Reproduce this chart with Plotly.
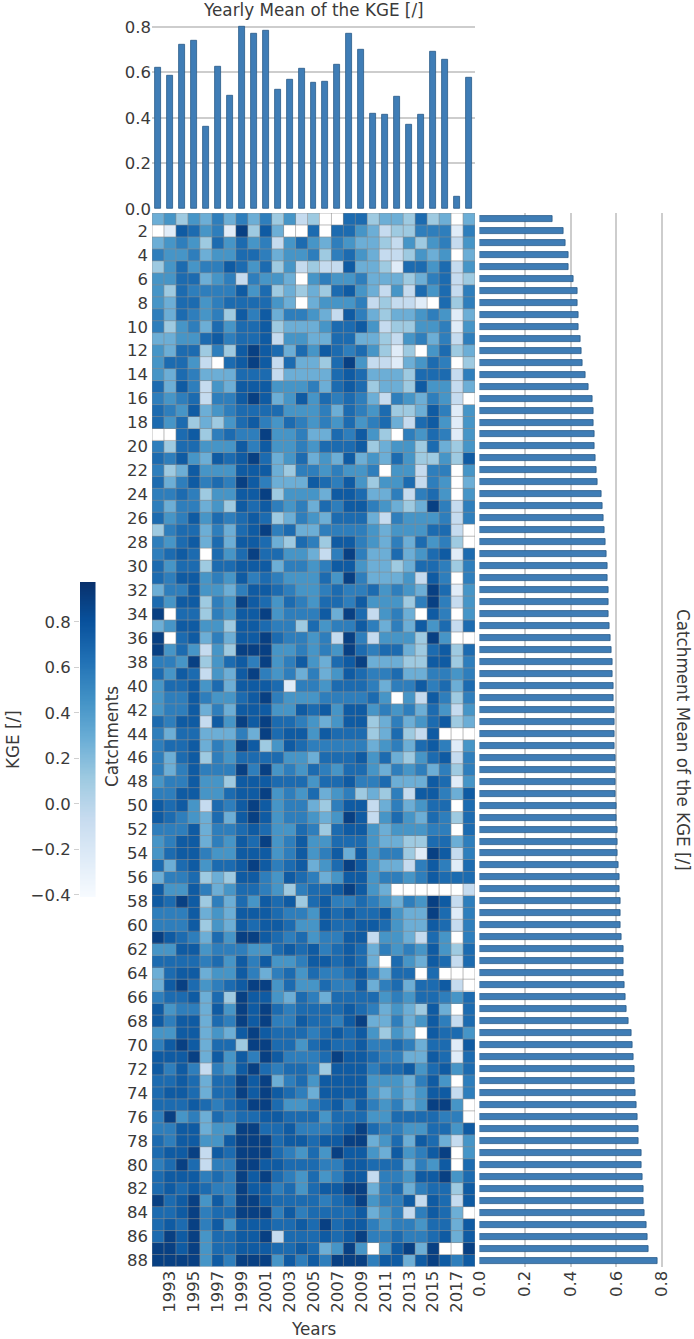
"""
KGE heatmap per catchment and year, with yearly and catchment mean bars
"""

import plotly.graph_objects as go

W, H = 694, 1339

years = list(range(1992, 2019))
catchments = list(range(1, 89))
year_ticks = list(range(1993, 2018, 2))
catchment_ticks = list(range(2, 89, 2))

yearly_mean = [0.62, 0.585, 0.72, 0.74, 0.36, 0.625, 0.50, 0.80, 0.77, 0.785, 0.525, 0.57, 0.615, 0.555,
               0.56, 0.635, 0.77, 0.70, 0.42, 0.415, 0.495, 0.37, 0.415, 0.69, 0.655, 0.055, 0.575]

catchment_mean = [0.319, 0.37, 0.375, 0.39, 0.39, 0.411, 0.428, 0.431, 0.433, 0.433, 0.443, 0.446,
                  0.453, 0.463, 0.477, 0.494, 0.50, 0.50, 0.503, 0.505, 0.508, 0.512, 0.515, 0.535,
                  0.54, 0.545, 0.548, 0.553, 0.555, 0.56, 0.563, 0.565, 0.567, 0.567, 0.57, 0.573,
                  0.58, 0.583, 0.585, 0.586, 0.587, 0.59, 0.59, 0.59, 0.593, 0.595, 0.596, 0.597,
                  0.598, 0.60, 0.602, 0.603, 0.605, 0.607, 0.61, 0.612, 0.614, 0.616, 0.618, 0.62,
                  0.622, 0.63, 0.63, 0.632, 0.635, 0.64, 0.645, 0.653, 0.665, 0.67, 0.675, 0.678,
                  0.68, 0.682, 0.69, 0.693, 0.695, 0.695, 0.71, 0.712, 0.715, 0.717, 0.72, 0.722,
                  0.73, 0.735, 0.742, 0.781]

# KGE, one digit per year; 0 = empty cell
kge_levels = {"0": None, "1": -0.25, "2": -0.06, "3": 0.11, "4": 0.28, "5": 0.44,
              "6": 0.56, "7": 0.66, "8": 0.75, "9": 0.89}

kge_rows = [
    "4535464646 3523007734 4373404",
    "0187561938 4007077542 3366616",
    "4565375756 2575465443 2535625",
    "6556455776 4556367542 2354504",
    "3575668757 3523228443 1775725",
    "5577456265 5405655644 4346723",
    "5376666857 3434378542 5275726",
    "5477567777 5404555623 2210736",
    "6476563868 4665428643 4456514",
    "6356475778 3444577852 3355615",
    "4455786778 2554477443 2564626",
    "5477363898 7475876753 1305734",
    "5775207898 2744379522 1457603",
    "5476444777 2444478744 4377726",
    "7486254888 5556478734 4385524",
    "6567266898 4585767642 6546520",
    "7658456777 7555647657 3348615",
    "7573435786 5765657567 4278515",
    "0078367669 5564476853 0657615",
    "6377555868 5565777834 5537435",
    "7685487897 4574548454 7533538",
    "6348555888 4366565560 5526605",
    "7468676986 4448768535 5726504",
    "6676355889 3555488744 6267505",
    "6466453878 6564768865 4349626",
    "7568576787 3465477742 6555626",
    "3677464789 6744666654 5557720",
    "6578474887 4376388654 6475630",
    "6787075797 7554269644 7457817",
    "7577377888 4665688544 3477636",
    "7688565867 6555759644 4528606",
    "4668554688 7655676675 6549715",
    "7588365987 5765776855 5369625",
    "9077365889 5666849725 6408605",
    "4588553887 6637566864 6485727",
    "9078464889 7665629625 5539500",
    "9575253999 5565659767 7437837",
    "6659357869 5685478944 4338836",
    "7587254896 5646458766 7446656",
    "5778574888 7166577764 6686747",
    "5668655789 6555666675 0528636",
    "5668464888 5587858856 5647525",
    "7688285989 7765458834 6457834",
    "6477444649 7885877734 7328000",
    "6778465983 5876666645 6478615",
    "6478365777 7554777857 4357826",
    "6468666969 5657657754 6564636",
    "5668553888 7775778667 4448715",
    "6688557889 5657456343 6288648",
    "8785276898 5664368824 6457707",
    "8765474898 5665459825 7547637",
    "6668466787 5576378854 5556607",
    "5688465879 5685577754 4337746",
    "5788655888 5685684856 6319826",
    "7478577898 6784579854 4268617",
    "4667343886 5876458856 6568777",
    "8558645776 5367789854 0000002",
    "8798364758 7837866765 4659826",
    "6668454888 7665878778 5449716",
    "6668354878 8755877887 5448726",
    "9876475998 7675668825 5427506",
    "5588566655 7878678746 5658537",
    "7777675868 5568878740 7548727",
    "4788455864 6757667864 7707000",
    "4897567899 5755766846 7477820",
    "6778473988 5476477775 6577657",
    "8566485989 7677778764 5438407",
    "8688476989 6687768944 6458627",
    "5588454898 7776787853 5408775",
    "6898477399 7757877866 7647718",
    "8889485869 8666798876 6448717",
    "8686265897 6776388867 7857857",
    "7787477989 4675888855 5468506",
    "7887477989 8764888854 5458826",
    "7778767899 7556786865 6459950",
    "6956476778 8777577755 7777660",
    "6688455997 7866678976 6557758",
    "7688558999 7887889945 7487425",
    "7889287999 7657598854 8568905",
    "6797266998 8777668877 7465807",
    "7888676989 7657568826 6588957",
    "7878766988 6757889946 7467738",
    "9789586998 7777678956 6828728",
    "7789677999 6867777845 6268740",
    "7879685888 7787978865 6657748",
    "7989577889 2777878966 7667848",
    "9989577888 7787459505 8949009",
    "9999586999 5868699968 8489868",
]

blues = ["#f7fbff", "#deebf7", "#c6dbef", "#9ecae1", "#6baed6", "#4292c6", "#2171b5", "#08519c", "#08306b"]
colorscale = [[i / 8, c] for i, c in enumerate(blues)]
ZMIN, ZMAX = -0.41, 0.975
cbar_ramp = [ZMIN + (ZMAX - ZMIN) * i / 255 for i in range(256)]

TEXT = "#3a3a3a"
GRID = "#cdcdcd"
BAR = "#3f7db6"
BAR_EDGE = "#2a5a88"
FONT = "DejaVu Sans"
TICK = 16.5
LABEL = 16.8
AXIS_MAX = 0.81  # 0.8 の目盛線を残すために少し広げる


def xdom(a, b):
    return [a / W, b / W]


def ydom(top, bottom):
    return [1 - bottom / H, 1 - top / H]


def label(text, x, y, angle=0):
    return dict(text=text, x=x / W, y=1 - y / H, xref="paper", yref="paper", showarrow=False,
                xanchor="center", yanchor="middle", textangle=angle,
                font=dict(family=FONT, size=LABEL, color=TEXT))


z = [[kge_levels[c] for c in row.replace(" ", "")] for row in kge_rows]

fig = go.Figure()

# ヒートマップ
fig.add_trace(go.Heatmap(x=years, y=catchments, z=z, zmin=ZMIN, zmax=ZMAX, colorscale=colorscale,
                         showscale=False, xaxis="x", yaxis="y", hoverongaps=False))

# セルの枠線
grid_x, grid_y = [], []
for yr in years + [years[-1] + 1]:
    grid_x += [yr - 0.5, yr - 0.5, None]
    grid_y += [catchments[0] - 0.5, catchments[-1] + 0.5, None]
for c in catchments + [catchments[-1] + 1]:
    grid_x += [years[0] - 0.5, years[-1] + 0.5, None]
    grid_y += [c - 0.5, c - 0.5, None]
fig.add_trace(go.Scatter(x=grid_x, y=grid_y, mode="lines", line=dict(color="#8c8c8c", width=0.6),
                         hoverinfo="skip", showlegend=False, xaxis="x", yaxis="y"))

# 年平均
fig.add_trace(go.Bar(x=years, y=yearly_mean, width=0.5, marker=dict(color=BAR, line=dict(color=BAR_EDGE, width=0.8)),
                     showlegend=False, xaxis="x2", yaxis="y2"))

# 流域平均
fig.add_trace(go.Bar(y=catchments, x=catchment_mean, orientation="h", width=0.5,
                     marker=dict(color=BAR, line=dict(color=BAR_EDGE, width=0.8)),
                     showlegend=False, xaxis="x3", yaxis="y3"))

# カラーバー
fig.add_trace(go.Heatmap(x=[0], y=cbar_ramp, z=[[v] for v in cbar_ramp], zmin=ZMIN, zmax=ZMAX,
                         colorscale=colorscale, showscale=False, xaxis="x4", yaxis="y4", hoverinfo="skip"))

tick_font = dict(family=FONT, size=TICK, color=TEXT)
year_range = [years[0] - 0.5, years[-1] + 0.5]
catchment_range = [catchments[-1] + 0.5, catchments[0] - 0.5]

fig.update_layout(
    width=W, height=H,
    margin=dict(l=0, r=0, t=0, b=0, pad=0, autoexpand=False),
    paper_bgcolor="white", plot_bgcolor="white",
    font=dict(family=FONT, color=TEXT),
    bargap=0,
    xaxis=dict(domain=xdom(152, 475), range=year_range, tickvals=year_ticks, tickangle=-90,
               tickfont=tick_font, showgrid=False, zeroline=False, ticks=""),
    yaxis=dict(domain=ydom(213, 1266.5), range=catchment_range, tickvals=catchment_ticks,
               tickfont=tick_font, showgrid=False, zeroline=False, ticks="", ticklabelstandoff=3),
    xaxis2=dict(domain=xdom(152, 475), range=year_range, anchor="y2", showticklabels=False,
                showgrid=False, zeroline=False, ticks=""),
    yaxis2=dict(domain=ydom(24.7, 209), range=[0, AXIS_MAX], anchor="x2", tickvals=[0, 0.2, 0.4, 0.6, 0.8],
                tickformat=".1f", tickfont=tick_font, gridcolor=GRID, gridwidth=1.5, zeroline=False, ticks=""),
    xaxis3=dict(domain=xdom(479.5, 664.3), range=[0, AXIS_MAX], anchor="y3", tickvals=[0, 0.2, 0.4, 0.6, 0.8],
                tickformat=".1f", tickangle=-90, tickfont=tick_font, gridcolor=GRID, gridwidth=1.5,
                zeroline=False, ticks=""),
    yaxis3=dict(domain=ydom(213, 1266.5), range=catchment_range, anchor="x3", showticklabels=False,
                showgrid=False, zeroline=False, ticks=""),
    xaxis4=dict(domain=xdom(80, 95.5), anchor="y4", showticklabels=False, showgrid=False, zeroline=False,
                ticks="", range=[-0.5, 0.5]),
    yaxis4=dict(domain=ydom(582, 897), range=[ZMIN, ZMAX], anchor="x4", tickvals=[-0.4, -0.2, 0, 0.2, 0.4, 0.6, 0.8],
                ticktext=["\u22120.4", "\u22120.2", "0.0", "0.2", "0.4", "0.6", "0.8"],
                tickfont=tick_font, showgrid=False, zeroline=False, ticks="outside", ticklen=5,
                tickcolor="#d0d0d0", tickwidth=1),
    annotations=[
        label("Yearly Mean of the KGE [/]", 313, 10),
        label("Years", 313, 1329),
        label("Catchments", 112, 737, -90),
        label("KGE [/]", 13, 740, -90),
        label("Catchment Mean of the KGE [/]", 683, 740, 90),
    ],
)

fig.write_html("out.html", config={"displayModeBar": False},
               post_script="document.body.style.margin='0';")
